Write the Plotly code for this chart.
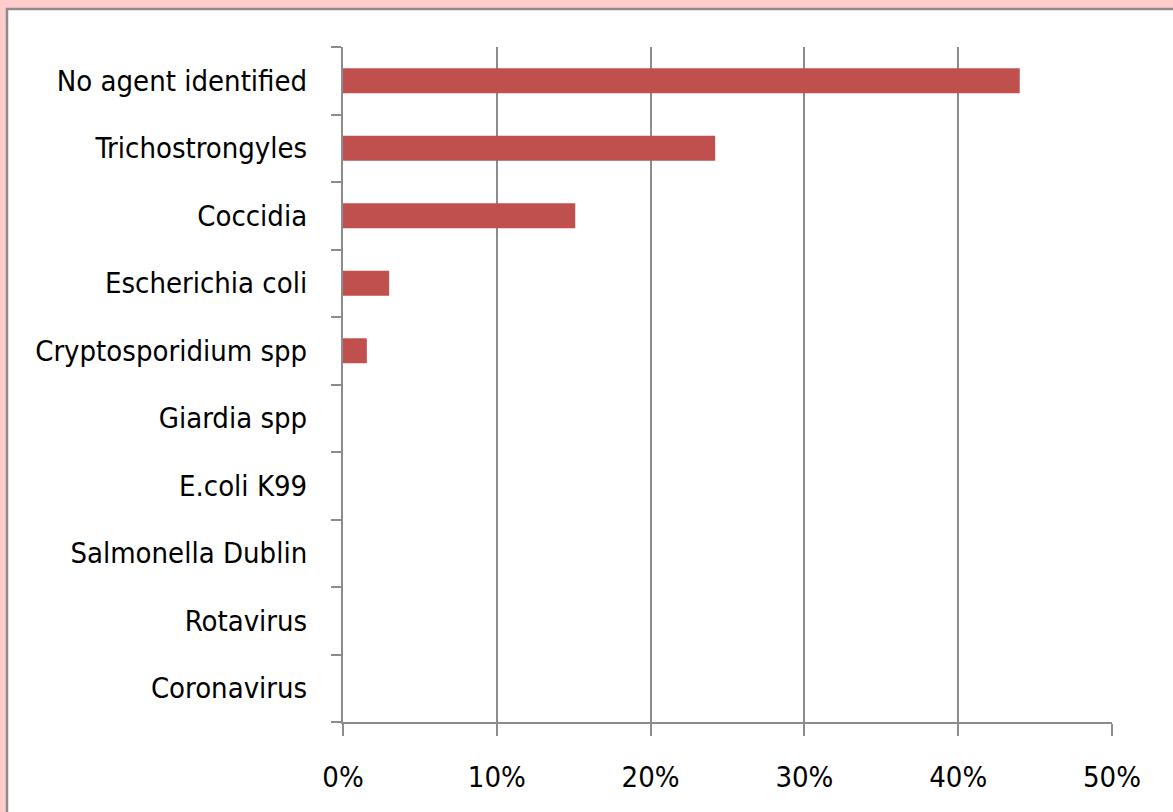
import plotly.graph_objects as go

categories = ["No agent identified", "Trichostrongyles", "Coccidia", "Escherichia coli",
              "Cryptosporidium spp", "Giardia spp", "E.coli K99", "Salmonella Dublin",
              "Rotavirus", "Coronavirus"]
values = [0.440, 0.242, 0.151, 0.030, 0.0155, 0, 0, 0, 0, 0]
x_ticks = [0, 0.1, 0.2, 0.3, 0.4, 0.5]
x_tick_labels = ["0%", "10%", "20%", "30%", "40%", "50%"]

W, H = 1173, 812
L, R, T, B = 343, 61, 47, 90
pw, ph = W - L - R, H - T - B

def px_x(p):
    return (p - L) / pw

def px_y(p):
    return (H - B - p) / ph

fig = go.Figure(go.Bar(
    x=values, y=categories, orientation="h",
    marker=dict(color="#C0504D", line=dict(width=0)),
))

font_family = "'Liberation Sans Narrow', 'DejaVu Sans Condensed', sans-serif"

fig.update_layout(
    width=W, height=H,
    margin=dict(l=L, r=R, t=T, b=B),
    paper_bgcolor="#FFCCCC",
    plot_bgcolor="rgba(0,0,0,0)",
    bargap=0.63,
    showlegend=False,
    font=dict(family=font_family, size=29, color="#000000"),
    shapes=[dict(type="rect", xref="paper", yref="paper", layer="below",
                 x0=px_x(7), x1=px_x(1190), y0=px_y(830), y1=px_y(9),
                 fillcolor="white", line=dict(color="#8C8C8C", width=2.5))],
)

fig.update_xaxes(
    range=[0, 0.5], tickvals=x_ticks, ticktext=x_tick_labels,
    showgrid=True, gridcolor="#8C8C8C", gridwidth=2,
    showline=True, linecolor="#8C8C8C", linewidth=2,
    ticks="outside", ticklen=12, tickcolor="#8C8C8C", tickwidth=2,
    ticklabelstandoff=16, zeroline=False,
    tickfont=dict(family=font_family, size=29),
)
fig.update_yaxes(
    categoryorder="array", categoryarray=categories[::-1],
    showline=True, linecolor="#8C8C8C", linewidth=2,
    ticks="outside", ticklen=10, tickcolor="#8C8C8C", tickwidth=2,
    tickson="boundaries", showgrid=False,
    ticklabelstandoff=28,
    tickfont=dict(family=font_family, size=29),
)

fig.write_html("out.html", config={"displayModeBar": False},
               post_script="document.body.style.margin='0';")
